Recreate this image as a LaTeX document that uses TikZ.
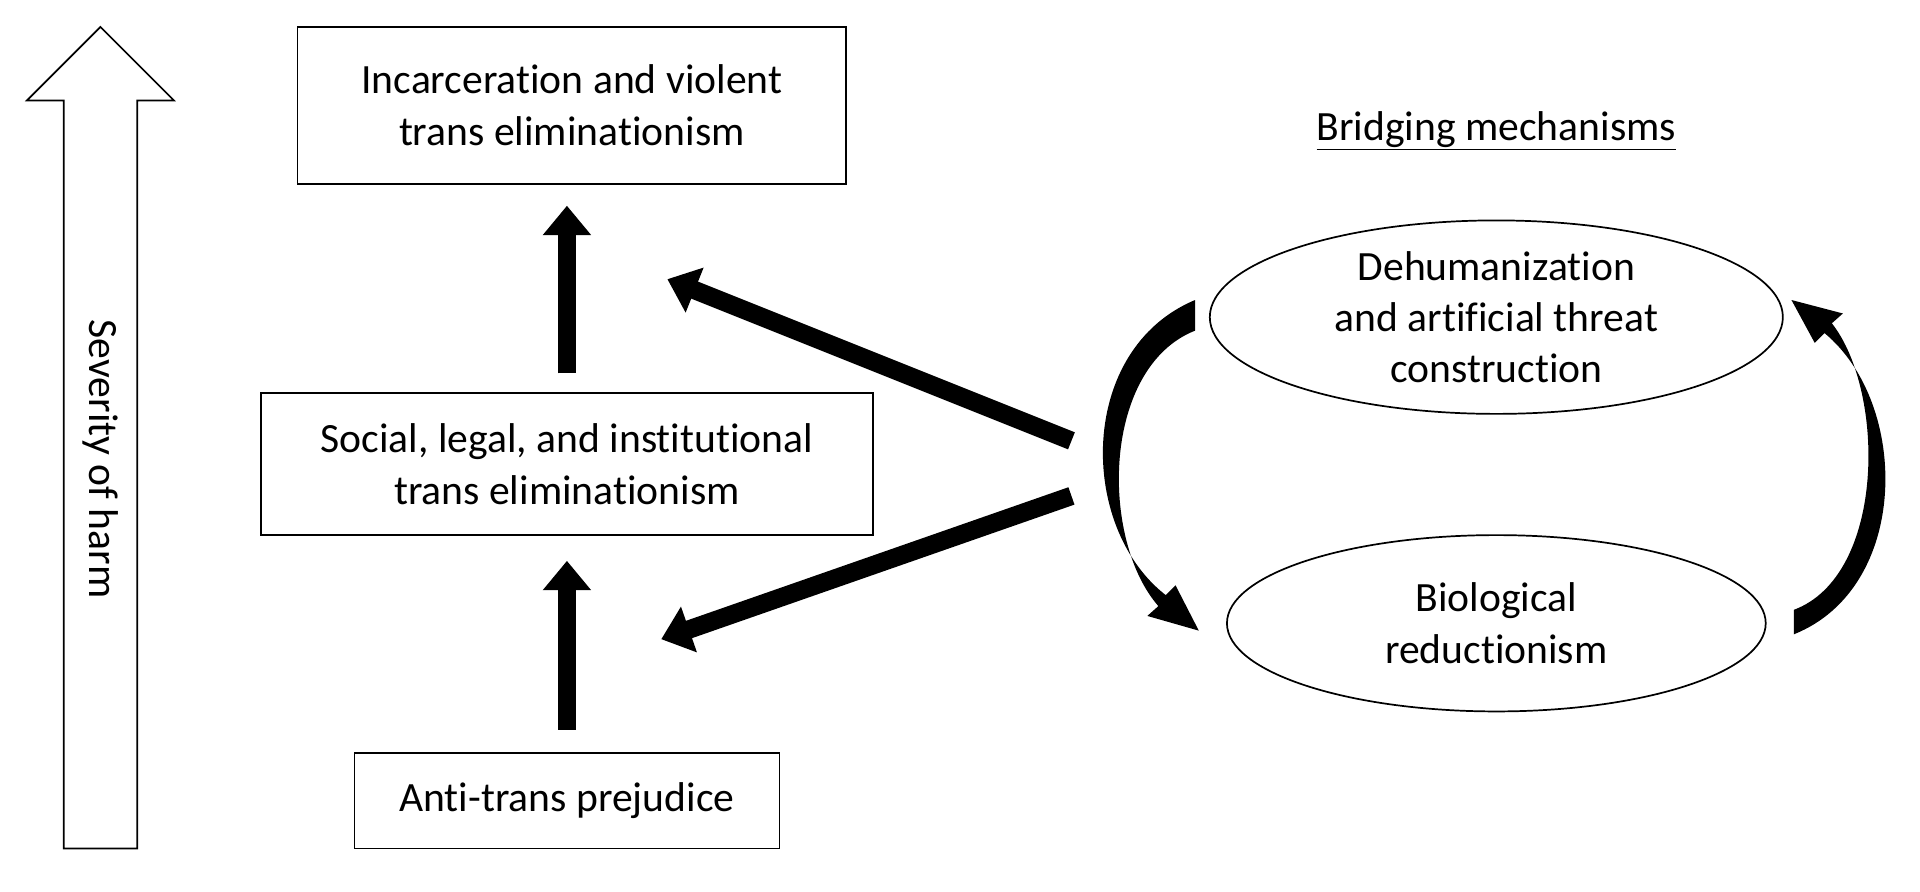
\documentclass[tikz,border=0pt]{standalone}
\usepackage{fontspec}
\setmainfont{Carlito}[Ligatures=NoCommon]
\usetikzlibrary{arrows.meta}
\begin{document}
\begin{tikzpicture}[x=1pt,y=-1pt,
  txt/.style={align=center,font=\fontsize{34}{42}\selectfont},
  box/.style={draw,line width=1.4pt,txt},
  bigarr/.style={line width=15pt,-{Triangle[width=38pt,length=24pt]}}]
\useasboundingbox (0,0) rectangle (1568,728);
% severity arrow
\draw[line width=1.4pt] (52,693) -- (52,82) -- (22,82) -- (82,22) -- (142,82) -- (112,82) -- (112,693) -- cycle;
\node[rotate=-90,txt] (sev) at (82,375) {Severity of harm};
% boxes
\node[box,minimum width=448pt,minimum height=128pt] (inc) at (467,86) {Incarceration and violent\\trans eliminationism};
\node[box,minimum width=500pt,minimum height=116pt] (soc) at (463,379) {Social, legal, and institutional\\trans eliminationism};
\node[box,minimum width=347pt,minimum height=78pt] (anti) at (463,654) {Anti-trans prejudice};
% vertical arrows
\draw[bigarr] (463,305) -- (463,168);
\draw[bigarr] (463,596) -- (463,458);
% diagonal arrows
\coordinate (d1) at (875,360);
\coordinate (d2) at (875,405);
\draw[bigarr] (d1) -- (545,228);
\draw[bigarr] (d2) -- (540,522);
% bridging
\node[txt] (bm) at (1222,107) {\underline{Bridging mechanisms}};
\draw[line width=1.4pt] (1222,259) ellipse (234 and 79);
\node[txt] (e1t) at (1222,259) {Dehumanization\\and artificial threat\\construction};
\draw[line width=1.4pt] (1222,509) ellipse (220 and 72);
\node[txt] (e2t) at (1222,509) {Biological\\reductionism};
% curved tapered arrows
\fill (976,245) .. controls (880,285) and (880,430) .. (952,486)
  -- (960,478) -- (979,515) -- (937,503) -- (946,495)
  .. controls (898,440) and (900,300) .. (976,270) -- cycle;
\fill (1465,518) .. controls (1560,480) and (1560,330) .. (1490,272)
  -- (1482,280) -- (1463,245) -- (1505,256) -- (1496,264)
  .. controls (1540,320) and (1540,470) .. (1465,498) -- cycle;
\end{tikzpicture}
\end{document}
